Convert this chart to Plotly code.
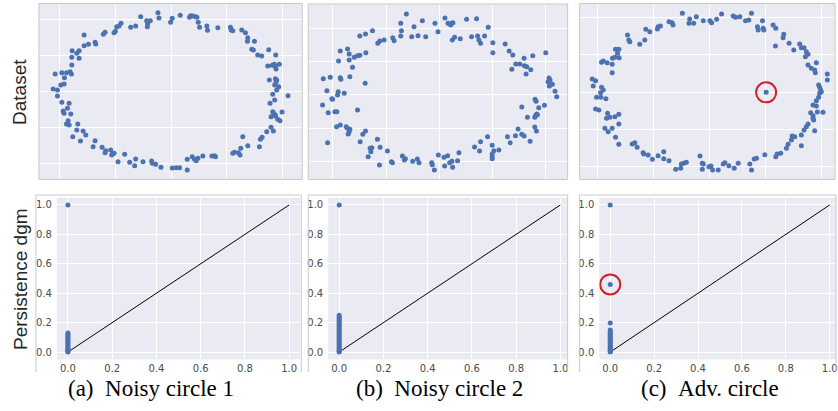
import plotly.graph_objects as go

# ---------------- data ----------------
# Top row: digitised point clouds (raw digitiser units, converted to data units below)
noisy1_pts = [
 (253,105),(253,137),(266,133),(286,127),(288,132),(311,103),(316,97),(343,98),(347,94),(351,80),(358,78),(364,70),
 (393,82),(408,78),(423,50),(441,62),(444,72),(452,62),(443,80),(475,38),(478,54),(513,67),(518,55),(542,46),(570,52),
 (573,47),(580,48),(588,50),(592,52),(596,67),(600,82),(622,78),(624,91),(655,83),(693,82),(695,90),(700,92),(727,90),
 (738,98),(745,113),(744,124),(765,124),(757,148),(762,150),(775,165),(787,168),(808,149),(829,165),
 (805,198),(818,196),(825,193),(828,200),(840,193),(830,207),(810,240),(828,236),(832,240),(830,246),(826,255),(838,260),
 (832,270),(820,283),(866,287),(826,300),(812,310),(820,335),(823,340),(848,336),(828,345),(815,350),(835,358),(842,362),
 (828,348),(815,382),(822,393),(802,395),(788,412),(783,418),(780,440),(745,437),(730,410),(724,445),(722,465),(717,458),
 (705,457),(700,460),
 (645,467),(648,470),(637,468),(610,468),(595,475),(590,482),(585,478),(578,470),(563,478),(563,510),(540,503),(530,503),
 (518,504),(484,502),(468,493),(458,490),(456,483),(430,485),(408,477),(405,497),(390,487),(375,463),(355,485),(343,460),
 (336,465),(338,462),(333,450),(318,452),(316,458),(307,442),(280,440),(286,422),(258,405),(250,393),(231,390),(234,372),
 (242,423),(219,410),(208,375),(200,372),(205,362),(193,340),(213,342),(190,333),(203,325),(186,307),(208,310),
 (173,288),(160,267),(173,270),(183,255),(193,252),(194,233),(186,218),(200,218),(211,215),(215,222),(166,222),(216,195),
 (216,172),(238,175),(231,160),(217,152),(238,152),
]
noisy2_pts = [
 (322,42),(305,70),(307,92),(305,108),(345,80),(370,62),(408,70),(417,95),(438,54),(447,70),(455,75),(458,70),(462,68),
 (460,120),(467,112),(484,116),(503,58),(533,56),(518,110),(536,108),(540,120),(545,130),(557,108),(568,82),(582,128),
 (582,158),(619,132),(631,153),(642,165),(651,192),(663,192),(639,208),(676,175),(677,197),(682,222),(684,200),(696,209),
 (702,167),(741,158),
 (751,234),(754,240),(748,245),(761,253),(752,258),(769,274),(774,290),(709,298),(712,304),(737,316),(720,323),(669,321),
 (714,342),(711,346),(716,344),(708,352),(686,352),(708,381),(713,393),(658,387),(669,403),(676,408),(650,407),(694,424),
 (634,428),(626,410),(600,450),(585,452),(580,436),(580,462),(580,470),(580,476),(566,410),(545,425),(542,453),(527,441),
 (480,458),(476,482),(459,484),(446,467),(435,472),(437,498),(452,488),(461,502),(418,465),(406,510),(398,488),(400,494),
 (360,488),(355,477),(341,484),(319,476),(310,468),(316,480),(277,485),(280,488),(265,453),(241,495),(243,442),(235,418),
 (218,443),(215,455),(213,445),(207,470),(191,403),(199,393),(183,425),(152,388),(150,395),(147,402),(141,380),(145,385),
 (112,380),(123,375),(85,428),(175,330),
 (70,315),(87,338),(107,335),(113,335),(100,298),(98,296),(115,285),(117,275),(135,280),(83,272),(72,236),(93,232),
 (123,233),(125,238),(152,230),(198,250),(118,183),(150,180),(150,162),(145,147),(123,153),(160,202),(165,172),(175,167),
 (182,166),(200,158),(182,108),(199,102),(220,92),(236,130),(242,123),(255,120),(281,113),(285,122),(338,110),(357,107),
 (380,110),
]
adv_pts = [
 (342,40),(364,57),(362,70),(376,70),(384,50),(405,62),(425,62),(430,68),(445,58),(460,42),(495,48),(502,52),(515,50),
 (532,62),(542,60),(550,40),(568,80),(570,90),(583,62),(585,85),(587,90),(615,75),(623,85),(622,138),(647,103),(645,113),
 (663,130),(677,150),(695,132),(700,143),(708,143),(715,155),(712,170),(720,163),(745,188),(720,195),(730,205),(740,210),
 (742,218),(778,222),(778,240),
 (752,255),(755,262),(758,270),(760,275),(755,280),(752,292),(745,302),(735,315),(745,318),(765,337),(748,336),(728,338),
 (735,347),(735,355),(737,360),(720,372),(715,380),(708,390),(740,392),(700,405),(680,410),(672,408),(670,420),(660,433),
 (655,445),(700,437),(638,460),(627,462),(623,470),(590,464),(565,475),(558,477),(545,492),(550,510),
 (510,490),(498,505),(482,497),(470,488),(465,492),(450,510),(433,510),(428,498),(422,500),(405,492),(402,508),(402,490),
 (395,468),(354,487),(346,490),(339,492),(337,505),(322,508),(302,482),(286,476),(286,455),(269,467),(252,478),(239,465),
 (226,462),(224,458),(206,442),(199,428),(191,432),(151,433),(141,412),(131,385),(119,395),(109,385),(151,372),(151,343),
 (139,350),(124,352),(114,355),(117,340),(91,330),(81,327),
 (112,296),(97,292),(84,292),(96,278),(104,270),(99,262),(74,258),(81,242),(71,237),(99,187),(104,183),(116,188),
 (131,193),(131,218),(132,175),(139,172),(152,173),(147,160),(141,148),(151,148),(177,105),(181,120),(184,125),(214,133),
 (229,120),(232,88),(244,95),(267,87),(269,80),(276,78),(302,65),(311,68),(314,75),
]
adv_point = [(594,277)]

# digitiser calibration per panel: (x offset, x zero, x units, y zero, y units)
calib1 = (0, 171.5, 111.4, 91.5, 72.5)
calib2 = (300, 440.3, 106.6, 95.0, 66.7)
calib3 = (570, 711.5, 112.5, 92.0, 74.7)

# Bottom row: persistence diagrams (birth, death)
dgm1_death = [0.0, 0.005, 0.01, 0.015, 0.02, 0.03, 0.04, 0.05, 0.06, 0.07, 0.08, 0.09, 0.10, 0.11, 0.12, 0.13, 1.0]
dgm2_death = [0.0, 0.005, 0.01, 0.02, 0.03, 0.04, 0.05, 0.06, 0.07, 0.08, 0.09, 0.10, 0.11, 0.12, 0.13, 0.14,
              0.15, 0.16, 0.17, 0.18, 0.19, 0.20, 0.21, 0.22, 0.23, 0.24, 0.25, 1.0]
dgm3_death = [0.0, 0.005, 0.01, 0.02, 0.03, 0.04, 0.05, 0.06, 0.07, 0.08, 0.09, 0.10, 0.11, 0.12, 0.13, 0.14,
              0.15, 0.197, 0.46, 1.0]
adv_dgm_point = [0.46]
diag = [0.0, 1.0]
tick_vals = [0.0, 0.2, 0.4, 0.6, 0.8, 1.0]

row_labels = ["Dataset", "Persistence dgm"]
captions = ["(a)\u2002Noisy circle 1", "(b)\u2002Noisy circle 2", "(c)\u2002Adv. circle"]

# ---------------- helpers ----------------
W, H = 838, 411
BLUE = "#4C72B0"
BG = "#EAEAF2"
RED = "#D0202A"
FRAME = "#C9C9C9"


def to_data(pts, cal):
    off, x0, xs, y0, ys = cal
    xs_ = [((off + p[0] / 3.0) - x0) / xs for p in pts]
    ys_ = [(y0 - p[1] / 3.0) / ys for p in pts]
    return xs_, ys_


def fx(px):
    return px / W


def fy(py):
    return 1 - py / H


fig = go.Figure()

# ---------------- traces ----------------
tops = [(noisy1_pts + [], calib1), (noisy2_pts, calib2), (adv_pts + adv_point, calib3)]
for i, (pts, cal) in enumerate(tops):
    n = i + 1
    xa = "x" if n == 1 else f"x{n}"
    ya = "y" if n == 1 else f"y{n}"
    x, y = to_data(pts, cal)
    fig.add_trace(go.Scatter(x=x, y=y, mode="markers", xaxis=xa, yaxis=ya,
                             marker=dict(color=BLUE, size=5, line=dict(width=0)),
                             showlegend=False, hoverinfo="skip"))

ax_, ay_ = to_data(adv_point, calib3)
fig.add_trace(go.Scatter(x=ax_, y=ay_, mode="markers", xaxis="x3", yaxis="y3",
                         marker=dict(color=RED, size=20, symbol="circle-open", line=dict(width=2, color=RED)),
                         showlegend=False, hoverinfo="skip"))

for i, d in enumerate([dgm1_death, dgm2_death, dgm3_death]):
    n = i + 4
    xa, ya = f"x{n}", f"y{n}"
    fig.add_trace(go.Scatter(x=diag, y=diag, mode="lines", xaxis=xa, yaxis=ya,
                             line=dict(color="black", width=1), showlegend=False, hoverinfo="skip"))
    fig.add_trace(go.Scatter(x=[0.0] * len(d), y=d, mode="markers", xaxis=xa, yaxis=ya,
                             marker=dict(color=BLUE, size=5, line=dict(width=0)),
                             showlegend=False, hoverinfo="skip"))

fig.add_trace(go.Scatter(x=[0.0], y=adv_dgm_point, mode="markers", xaxis="x6", yaxis="y6",
                         marker=dict(color=RED, size=20, symbol="circle-open", line=dict(width=2, color=RED)),
                         showlegend=False, hoverinfo="skip"))

# ---------------- axes ----------------
layout = dict(width=W, height=H, margin=dict(l=0, r=0, t=0, b=0),
              paper_bgcolor="white", plot_bgcolor=BG, showlegend=False)

top_dom = [((39, 303), (3.5, 179.5), (-1.189, 1.180), (-1.214, 1.214)),
           ((309, 569), (4.0, 179.5), (-1.232, 1.207), (-1.267, 1.364)),
           ((581, 837), (3.5, 179.5), (-1.160, 1.116), (-1.171, 1.185))]
for i, (xd, yd, xr, yr) in enumerate(top_dom):
    n = i + 1
    xk = "xaxis" if n == 1 else f"xaxis{n}"
    yk = "yaxis" if n == 1 else f"yaxis{n}"
    ya = "y" if n == 1 else f"y{n}"
    xa = "x" if n == 1 else f"x{n}"
    layout[xk] = dict(domain=[fx(xd[0]), fx(xd[1])], range=list(xr), anchor=ya, tick0=0, dtick=0.5,
                      showticklabels=False, showgrid=True, gridcolor="white", gridwidth=1,
                      zeroline=False, showline=False, ticks="", fixedrange=True)
    layout[yk] = dict(domain=[fy(yd[1]), fy(yd[0])], range=list(yr), anchor=xa, tick0=0, dtick=0.5,
                      showticklabels=False, showgrid=True, gridcolor="white", gridwidth=1,
                      zeroline=False, showline=False, ticks="", fixedrange=True)

bot_dom = [((57, 301), (-0.05, 1.05)),
           ((329, 569), (-0.0496, 1.033)),
           ((600.7, 838), (-0.05, 1.0286))]
tickfont = dict(family="DejaVu Sans, Liberation Sans, Arial", size=10, color="#4a4a4a")
for i, (xd, xr) in enumerate(bot_dom):
    n = i + 4
    layout[f"xaxis{n}"] = dict(domain=[fx(xd[0]), fx(xd[1])], range=list(xr), anchor=f"y{n}",
                               tickvals=tick_vals, tickformat=".1f", tickfont=tickfont,
                               showgrid=True, gridcolor="white", gridwidth=1, zeroline=False,
                               showline=False, ticks="", ticklabelstandoff=2, ticklabeloverflow="allow",
                               fixedrange=True)
    layout[f"yaxis{n}"] = dict(domain=[fy(359.4), fy(197.6)], range=[-0.05, 1.05], anchor=f"x{n}",
                               tickvals=tick_vals, tickformat=".1f", tickfont=tickfont,
                               showgrid=True, gridcolor="white", gridwidth=1, zeroline=False,
                               showline=False, ticks="", ticklabelstandoff=4, ticklabeloverflow="allow",
                               fixedrange=True)

# ---------------- frames (decoration) ----------------
shapes = []
for (x0, x1), (y0, y1), _, _ in top_dom:
    shapes.append(dict(type="rect", xref="paper", yref="paper", x0=fx(x0), x1=fx(x1), y0=fy(y1), y1=fy(y0),
                       line=dict(color=FRAME, width=1), fillcolor="rgba(0,0,0,0)", layer="above"))
for (x0, x1) in [(36, 302), (309, 569), (581, 838)]:
    for (a, b, c, d) in [(x0, 195, x0, 372), (x0, 195, x1, 195), (x1, 195, x1, 372)]:
        shapes.append(dict(type="line", xref="paper", yref="paper", x0=fx(a), y0=fy(b), x1=fx(c), y1=fy(d),
                           line=dict(color=FRAME, width=1)))
layout["shapes"] = shapes

# ---------------- text ----------------
ann = []
for lab, yc in zip(row_labels, [92, 279]):
    ann.append(dict(text=lab, xref="paper", yref="paper", x=fx(20), y=fy(yc), textangle=-90,
                    showarrow=False, xanchor="center", yanchor="middle",
                    font=dict(family="Liberation Sans, Arial", size=19, color="#262626")))
for cap, xc in zip(captions, [151.5, 441, 711.7]):
    ann.append(dict(text=cap, xref="paper", yref="paper", x=fx(xc), y=fy(388),
                    showarrow=False, xanchor="center", yanchor="middle",
                    font=dict(family="Liberation Serif, Times New Roman", size=23, color="black")))
layout["annotations"] = ann

fig.update_layout(**layout)
fig.write_html("out.html")
